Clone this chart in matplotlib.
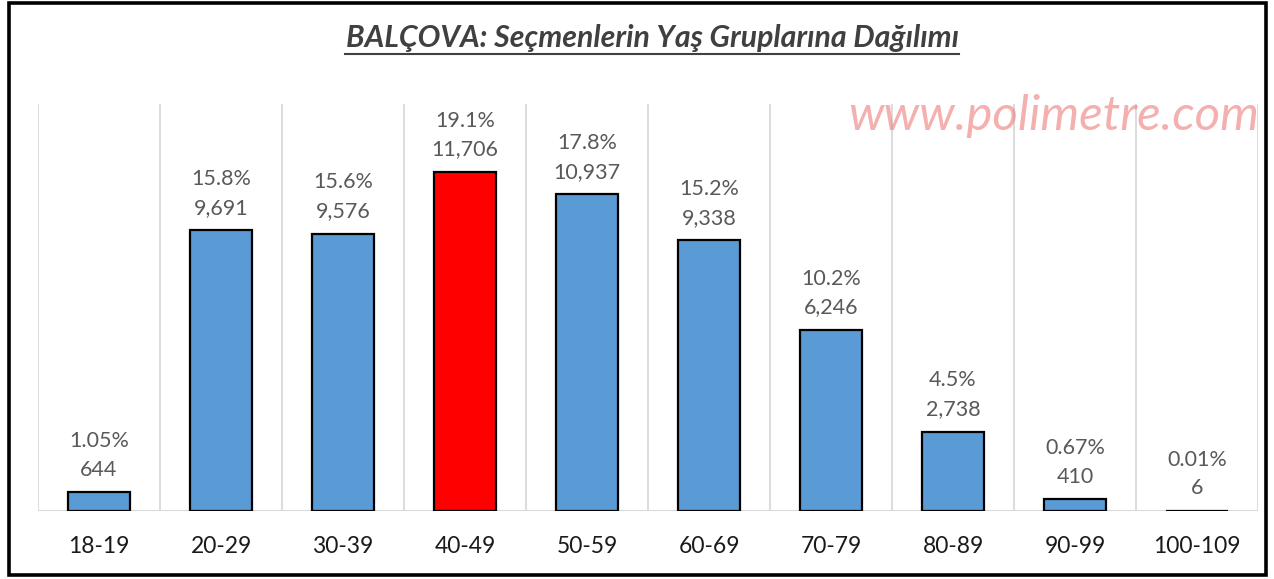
import matplotlib
matplotlib.use("Agg")
import matplotlib.pyplot as plt
from matplotlib.patches import Rectangle
from matplotlib.lines import Line2D

categories = ["18-19", "20-29", "30-39", "40-49", "50-59", "60-69", "70-79", "80-89", "90-99", "100-109"]
values = [644, 9691, 9576, 11706, 10937, 9338, 6246, 2738, 410, 6]
pct_labels = ["1.05%", "15.8%", "15.6%", "19.1%", "17.8%", "15.2%", "10.2%", "4.5%", "0.67%", "0.01%"]
highlight = "40-49"

W, H = 1274, 579
fig = plt.figure(figsize=(W / 100, H / 100), dpi=100)
fig.patch.set_facecolor("white")
FONT = "Lato"

ax = fig.add_axes([38 / W, (H - 511) / H, (1258 - 38) / W, (511 - 104) / H])
x = list(range(len(categories)))
colors = ["#FF0000" if c == highlight else "#5B9BD5" for c in categories]
ax.bar(x, values, width=0.51, color=colors, edgecolor="black", linewidth=1.6, zorder=3)
ax.set_xlim(-0.5, len(categories) - 0.5)
ax.set_ylim(0, 14050)

for i in range(len(categories) + 1):
    ax.axvline(i - 0.5, color="#D9D9D9", linewidth=1.3, zorder=1)
ax.axhline(0, color="#D9D9D9", linewidth=1.5, zorder=2)

for s in ax.spines.values():
    s.set_visible(False)
ax.set_yticks([])
ax.set_xticks(x)
ax.set_xticklabels(categories, fontsize=16.5, family=FONT, color="#1a1a1a")
ax.tick_params(axis="x", length=0, pad=18)

for xi, v, p in zip(x, values, pct_labels):
    ax.annotate(f"{p}\n{v:,}", (xi, v), xytext=(0, 9), textcoords="offset points",
                ha="center", va="bottom", fontsize=15.5, family=FONT, color="#595959",
                linespacing=1.55, zorder=4)

# watermark
fig.text(1259 / W, 1 - 116 / H, "www.polimetre.com", ha="right", va="center",
         fontsize=35.5, style="italic", family=FONT, color="#EE7A7A", alpha=0.6)

# title
title = fig.text(652 / W, 1 - 38 / H, "BALÇOVA: Seçmenlerin Yaş Gruplarına Dağılımı",
                 ha="center", va="center", fontsize=21.8, style="italic", weight="bold",
                 family=FONT, color="#404040")
fig.canvas.draw()
bb = title.get_window_extent(renderer=fig.canvas.get_renderer())
yline = (bb.y0 - 2) / H
fig.add_artist(Line2D([bb.x0 / W, bb.x1 / W], [yline, yline], color="#404040", linewidth=1.5,
                      transform=fig.transFigure))

# border
fig.add_artist(Rectangle((9 / W, (H - 575) / H), (1266 - 9) / W, (575 - 3) / H,
                         transform=fig.transFigure, fill=False, edgecolor="black", linewidth=2.6))

fig.savefig("out.png", dpi=100, facecolor="white")
